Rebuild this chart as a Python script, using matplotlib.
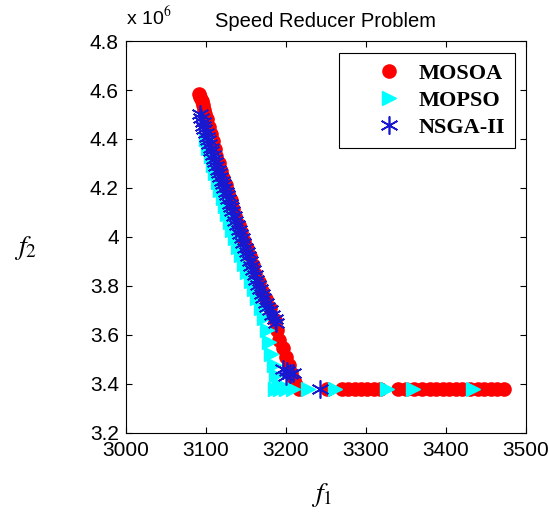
import matplotlib
matplotlib.use("Agg")
import matplotlib.pyplot as plt
from matplotlib.ticker import FuncFormatter

# ---------------- data ----------------
mosoa_f1 = [3092, 3093, 3095, 3096, 3098, 3099, 3101, 3104, 3106, 3109,
            3111, 3113, 3116, 3119, 3122, 3125, 3128, 3131, 3134, 3137,
            3141, 3144, 3148, 3151, 3155, 3159, 3162, 3166, 3170, 3175,
            3180, 3186, 3189, 3192, 3196, 3200, 3204, 3207, 3210, 3213, 3217,
            3251, 3270, 3278, 3286, 3294, 3302, 3310, 3318,
            3340, 3350, 3360, 3370, 3380, 3388, 3396, 3404, 3412, 3420,
            3430, 3440, 3448, 3456, 3464, 3472]
mosoa_f2 = [4.585e6, 4.570e6, 4.555e6, 4.540e6, 4.520e6, 4.500e6, 4.480e6, 4.450e6, 4.420e6, 4.390e6,
            4.360e6, 4.330e6, 4.300e6, 4.270e6, 4.240e6, 4.210e6, 4.180e6, 4.150e6, 4.115e6, 4.085e6,
            4.050e6, 4.020e6, 3.985e6, 3.955e6, 3.920e6, 3.885e6, 3.850e6, 3.815e6, 3.780e6, 3.745e6,
            3.710e6, 3.660e6, 3.620e6, 3.580e6, 3.545e6, 3.510e6, 3.475e6, 3.445e6, 3.415e6, 3.395e6, 3.380e6,
            3.380e6, 3.380e6, 3.380e6, 3.380e6, 3.380e6, 3.380e6, 3.380e6, 3.380e6,
            3.380e6, 3.380e6, 3.380e6, 3.380e6, 3.380e6, 3.380e6, 3.380e6, 3.380e6, 3.380e6, 3.380e6,
            3.380e6, 3.380e6, 3.380e6, 3.380e6, 3.380e6, 3.380e6]

mopso_f1 = [3100, 3103, 3106, 3109, 3112, 3115, 3118, 3121, 3124, 3127,
            3130, 3133, 3137, 3140, 3144, 3148, 3152, 3156, 3160, 3164,
            3169, 3173, 3176, 3179, 3182, 3185, 3188, 3191,
            3186, 3193, 3200, 3209, 3228, 3262, 3326, 3359, 3434]
mopso_f2 = [4.400e6, 4.365e6, 4.330e6, 4.295e6, 4.260e6, 4.225e6, 4.190e6, 4.160e6, 4.125e6, 4.095e6,
            4.060e6, 4.030e6, 3.995e6, 3.960e6, 3.925e6, 3.890e6, 3.855e6, 3.820e6, 3.785e6, 3.750e6,
            3.710e6, 3.670e6, 3.620e6, 3.570e6, 3.520e6, 3.475e6, 3.435e6, 3.400e6,
            3.380e6, 3.380e6, 3.380e6, 3.380e6, 3.380e6, 3.380e6, 3.380e6, 3.380e6, 3.380e6]

nsga_f1 = [3093, 3094, 3096, 3097, 3098, 3100, 3101, 3103, 3104, 3106,
           3107, 3109, 3110, 3112, 3113, 3115, 3116, 3118, 3120, 3121,
           3123, 3125, 3126, 3128, 3130, 3132, 3133, 3135, 3137, 3139,
           3141, 3143, 3145, 3147, 3149, 3151, 3153, 3155, 3157, 3159,
           3161, 3163, 3165, 3168, 3170, 3172, 3175, 3177, 3180, 3183,
           3186, 3188,
           3197, 3201, 3205, 3200, 3209, 3243]
nsga_f2 = [4.500e6, 4.485e6, 4.470e6, 4.455e6, 4.440e6, 4.425e6, 4.410e6, 4.395e6, 4.380e6, 4.365e6,
           4.350e6, 4.335e6, 4.320e6, 4.305e6, 4.290e6, 4.275e6, 4.260e6, 4.245e6, 4.230e6, 4.215e6,
           4.200e6, 4.185e6, 4.170e6, 4.155e6, 4.135e6, 4.120e6, 4.105e6, 4.085e6, 4.065e6, 4.050e6,
           4.030e6, 4.010e6, 3.995e6, 3.975e6, 3.955e6, 3.940e6, 3.920e6, 3.900e6, 3.880e6, 3.865e6,
           3.845e6, 3.825e6, 3.805e6, 3.785e6, 3.765e6, 3.750e6, 3.730e6, 3.715e6, 3.700e6, 3.680e6,
           3.665e6, 3.650e6,
           3.460e6, 3.450e6, 3.440e6, 3.430e6, 3.445e6, 3.380e6]

labels = ["MOSOA", "MOPSO", "NSGA-II"]
title_text = "Speed Reducer Problem"
xticks = [3000, 3100, 3200, 3300, 3400, 3500]
yticks = [3.2e6, 3.4e6, 3.6e6, 3.8e6, 4.0e6, 4.2e6, 4.4e6, 4.6e6, 4.8e6]

# ---------------- figure ----------------
plt.rcParams['font.family'] = ['Liberation Sans', 'DejaVu Sans']
plt.rcParams['mathtext.fontset'] = 'stix'

fig = plt.figure(figsize=(5.49, 5.20), dpi=100)
ax = fig.add_axes([0.229, 0.168, 0.729, 0.753])

h1, = ax.plot(mosoa_f1, mosoa_f2, linestyle='none', marker='o', markersize=9.5,
              color='#ff0000', markeredgecolor='#ff0000', label=labels[0])
h2, = ax.plot(mopso_f1, mopso_f2, linestyle='none', marker='>', markersize=10,
              color='#00ffff', markeredgecolor='#00ffff', label=labels[1])
h3, = ax.plot(nsga_f1, nsga_f2, linestyle='none', marker=(6, 2, 0), markersize=13,
              color='#1818d0', markeredgewidth=1.2, label=labels[2])

ax.set_xlim(3000, 3500)
ax.set_ylim(3.2e6, 4.8e6)
ax.set_xticks(xticks)
ax.set_yticks(yticks)
ax.xaxis.set_major_formatter(FuncFormatter(lambda v, p: '%d' % round(v)))
ax.yaxis.set_major_formatter(FuncFormatter(lambda v, p: '%g' % (v / 1e6)))
ax.tick_params(direction='in', length=4, width=0.8, top=True, right=True,
               labelsize=15)
ax.tick_params(axis='x', pad=6)
ax.tick_params(axis='y', pad=5)
for s in ax.spines.values():
    s.set_linewidth(0.8)

fig.text(0.230, 0.945, r'x 10$^{6}$', fontsize=14, ha='left', va='bottom')
ax.set_title(title_text, fontsize=14.5, pad=10)

fig.text(0.586, 0.048, r'$f_1$', fontsize=20, ha='center', va='center')
fig.text(0.046, 0.523, r'$f_2$', fontsize=20, ha='center', va='center')

leg = ax.legend([h1, h2, h3], labels,
                loc='upper right', bbox_to_anchor=(0.972, 0.969),
                prop={'family': 'Liberation Serif', 'weight': 'bold', 'size': 16},
                frameon=True, fancybox=False, edgecolor='black', framealpha=1,
                handlelength=3.6, handletextpad=-0.5, borderpad=0.45,
                labelspacing=0.3, borderaxespad=0, numpoints=1)
leg.get_frame().set_linewidth(0.8)

fig.savefig('out.png', dpi=100)
